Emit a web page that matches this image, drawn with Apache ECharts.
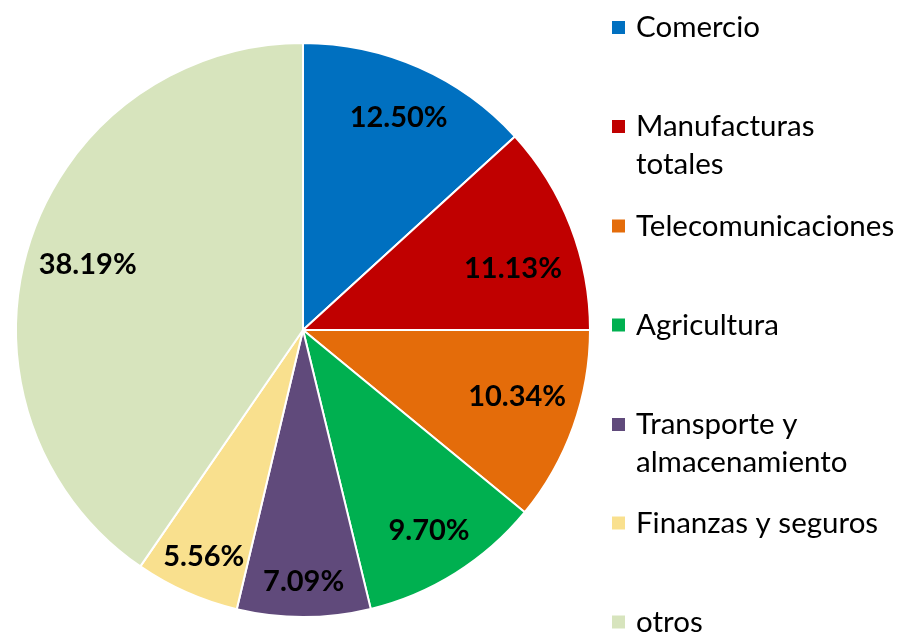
<!DOCTYPE html>
<html>
<head>
<meta charset="utf-8">
<script src="https://cdn.jsdelivr.net/npm/echarts@6/dist/echarts.min.js"></script>
<style>html,body{margin:0;padding:0;background:#fff}#c{width:901px;height:634px}</style>
</head>
<body>
<div id="c"></div>
<script>
const categories = ['Comercio', 'Manufacturas totales', 'Telecomunicaciones', 'Agricultura', 'Transporte y almacenamiento', 'Finanzas y seguros', 'otros'];
const legendText = ['Comercio', 'Manufacturas\ntotales', 'Telecomunicaciones', 'Agricultura', 'Transporte y\nalmacenamiento', 'Finanzas y seguros', 'otros'];
const values = [12.50, 11.13, 10.34, 9.70, 7.09, 5.56, 38.19];
const colors = ['#0070C0', '#C00000', '#E46C0A', '#00B050', '#604A7B', '#F9E08E', '#D7E4BD'];

const FONT = 'Lato';
const LH = 38;
const legendCenters = [27.5, 126.5, 226, 325, 424.5, 523, 622];
// per-slice label nudges (style only), [dx, dy] in px
const labelNudge = [[0,4], [-11,24], [-9,-13], [0,0], [0,15], [-3,10], [11,5]];

const data = categories.map((c, i) => ({ name: c, value: values[i], itemStyle: { color: colors[i] } }));

const legends = categories.map((c, i) => {
  const twoLine = legendText[i].indexOf('\n') >= 0;
  const h = twoLine ? LH * 1.5 : LH / 2;
  return {
    left: 610,
    top: legendCenters[i] - h,
    padding: 0,
    orient: 'vertical',
    itemWidth: 15,
    itemHeight: 15,
    icon: 'rect',
    data: [c],
    formatter: () => (twoLine ? '\n' : '') + legendText[i],
    selectedMode: false,
    textStyle: {
      fontFamily: FONT,
      fontSize: 29.5,
      color: '#000',
      lineHeight: LH,
      padding: [0, 0, 0, 5]
    }
  };
});

const chart = echarts.init(document.getElementById('c'));
chart.setOption({
  animation: false,
  color: colors,
  legend: legends,
  series: [
    {
      type: 'pie',
      center: [303, 330],
      radius: [0, 287],
      startAngle: 90,
      clockwise: true,
      silent: true,
      label: { show: false },
      labelLine: { show: false },
      itemStyle: { borderColor: '#fff', borderWidth: 2 },
      data: data
    },
    {
      type: 'pie',
      center: [303, 330],
      radius: [181, 287],
      startAngle: 90,
      clockwise: true,
      silent: true,
      itemStyle: { color: 'rgba(0,0,0,0)', borderWidth: 0 },
      labelLine: { show: false },
      label: {
        show: true,
        position: 'inside',
        fontFamily: FONT,
        fontWeight: 'bold',
        fontSize: 29,
        color: '#000',
        formatter: p => p.value.toFixed(2) + '%'
      },
      data: categories.map((c, i) => ({ name: c, value: values[i], label: { offset: labelNudge[i] } }))
    }
  ]
});
</script>
</body>
</html>
